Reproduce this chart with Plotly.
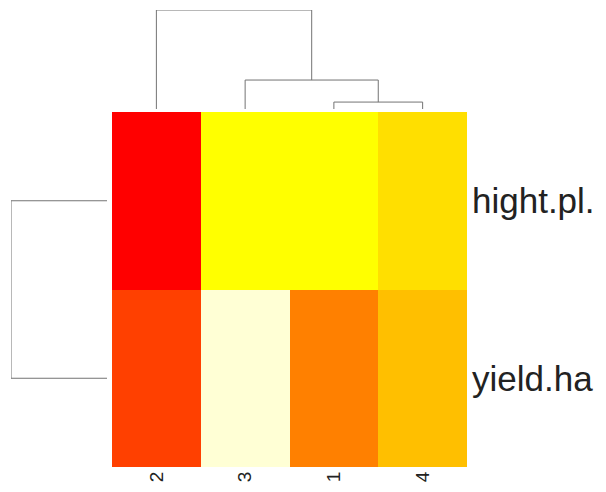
import plotly.graph_objects as go

# ---- data ----
col_labels = ["2", "3", "1", "4"]          # column order after clustering
row_labels = ["hight.pl.", "yield.ha"]     # row order (top to bottom)
# heat-colour level (0 = red ... 11 = pale yellow) of each cell
hight_levels = [0, 8, 8, 7]
yield_levels = [2, 11, 4, 6]
heat_colors = ["#FF0000", "#FF2000", "#FF4000", "#FF6000", "#FF8000", "#FF9F00",
               "#FFBF00", "#FFDF00", "#FFFF00", "#FFFF2A", "#FFFF80", "#FFFFD5"]
# column dendrogram merge heights: (1,4), (3,(1,4)), (2,(3,1,4))
col_merge_heights = [0.28, 1.17, 4.0]
# row dendrogram merge height
row_merge_height = 1.0

# ---- build ----
W, H = 606, 492
def px(x): return x / W
def py(y): return 1 - y / H

hm_x0, hm_x1, hm_top, hm_bot = 112, 467, 112, 467

n = len(col_labels)
cs = []
for i, c in enumerate(heat_colors):
    cs.append([i / len(heat_colors), c])
    cs.append([(i + 1) / len(heat_colors), c])

fig = go.Figure()
fig.add_trace(go.Heatmap(
    z=[hight_levels, yield_levels], x=list(range(n)), y=[0, 1],
    colorscale=cs, zmin=-0.5, zmax=len(heat_colors) - 0.5,
    showscale=False, hoverinfo="skip", xaxis="x", yaxis="y"))

line = dict(color="rgb(115,115,115)", width=1)

# column dendrogram (leaves at positions 0..3)
h1, h2, h3 = col_merge_heights
c14 = (2 + 3) / 2
c314 = (1 + c14) / 2
dx, dy = [], []
def seg(xs, ys):
    dx.extend(xs + [None]); dy.extend(ys + [None])
seg([2, 2, 3, 3], [0, h1, h1, 0])
seg([1, 1, c14, c14], [0, h2, h2, h1])
seg([0, 0, c314, c314], [0, h3, h3, h2])
fig.add_trace(go.Scatter(x=dx, y=dy, mode="lines", line=line, hoverinfo="skip",
                         xaxis="x2", yaxis="y2", showlegend=False))

# row dendrogram (leaves at positions 0,1)
fig.add_trace(go.Scatter(x=[0, row_merge_height, row_merge_height, 0],
                         y=[0, 0, 1, 1], mode="lines", line=line, hoverinfo="skip",
                         xaxis="x3", yaxis="y3", showlegend=False))

font = "Liberation Sans, Arial, sans-serif"
fig.update_layout(
    width=W, height=H, margin=dict(l=0, r=0, t=0, b=0),
    paper_bgcolor="white", plot_bgcolor="white", showlegend=False,
    font=dict(family=font, color="#222222"),
    xaxis=dict(domain=[px(hm_x0), px(hm_x1)], range=[-0.5, n - 0.5],
               tickvals=list(range(n)), ticktext=col_labels, tickangle=-90,
               tickfont=dict(size=19), showgrid=False, zeroline=False,
               ticks="", showline=False),
    yaxis=dict(domain=[py(hm_bot), py(hm_top)], range=[1.5, -0.5],
               tickvals=[0, 1], ticktext=row_labels, side="right",
               tickfont=dict(size=35), showgrid=False, zeroline=False,
               ticks="", showline=False, anchor="x", ticklabelstandoff=4),
    xaxis2=dict(domain=[px(hm_x0), px(hm_x1)], range=[-0.5, n - 0.5],
                visible=False, anchor="y2"),
    yaxis2=dict(domain=[py(109), py(10)], range=[0, h3],
                visible=False, anchor="x2"),
    xaxis3=dict(domain=[px(11), px(107)], range=[row_merge_height, 0],
                visible=False, anchor="y3"),
    yaxis3=dict(domain=[py(hm_bot), py(hm_top)], range=[1.5, -0.5],
                visible=False, anchor="x3"),
)
fig.write_html("out.html", config={"displayModeBar": False},
               post_script="document.body.style.margin='0';")
